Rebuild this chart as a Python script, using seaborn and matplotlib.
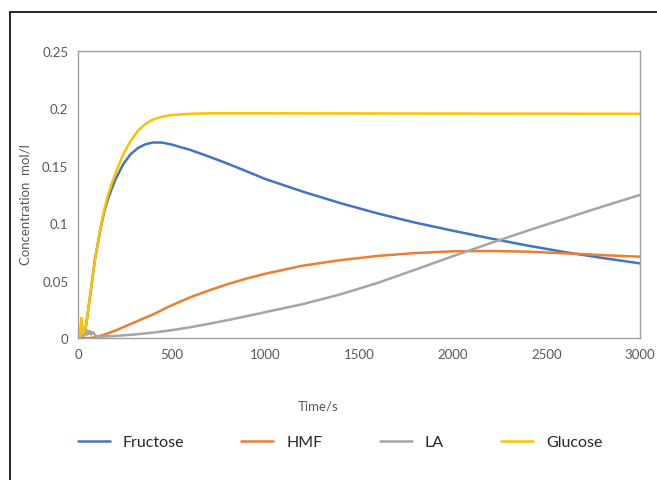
import matplotlib
matplotlib.use("Agg")
import matplotlib.pyplot as plt
import matplotlib.ticker as mticker
from matplotlib.lines import Line2D
import seaborn as sns
import pandas as pd

# data (time in s, concentration in mol/l)
fructose_t = [0, 15, 30, 40, 50, 60, 70, 80, 90, 100, 120, 140, 160, 180, 200, 240, 280, 320, 360,
              400, 450, 500, 600, 700, 800, 900, 1000, 1200, 1400, 1600, 1800, 2000, 2200, 2400,
              2600, 2800, 3000]
fructose = [0, 0.001, 0.004, 0.008, 0.019, 0.031, 0.043, 0.056, 0.068, 0.077, 0.095, 0.110, 0.121,
            0.130, 0.138, 0.151, 0.160, 0.1655, 0.1688, 0.1703, 0.1702, 0.1685, 0.1638, 0.158,
            0.1518, 0.1452, 0.1385, 0.1275, 0.1175, 0.1085, 0.1005, 0.0935, 0.0868, 0.0805,
            0.0748, 0.0697, 0.065]

hmf_t = [0, 60, 80, 100, 150, 200, 300, 400, 500, 600, 700, 800, 900, 1000, 1200, 1400, 1600,
         1800, 2000, 2200, 2400, 2600, 2800, 3000]
hmf = [0, 0, 0.0003, 0.001, 0.0035, 0.0065, 0.0135, 0.0205, 0.0285, 0.0355, 0.0415, 0.047, 0.0518,
       0.056, 0.063, 0.0678, 0.0715, 0.074, 0.0755, 0.0758, 0.0752, 0.0738, 0.0722, 0.0708]

la_t = [0, 20, 25, 30, 35, 40, 45, 50, 55, 60, 65, 70, 80, 90, 100, 200, 300, 400, 500, 600, 700,
        800, 900, 1000, 1200, 1400, 1600, 1800, 2000, 2200, 2400, 2600, 2800, 3000]
la = [0, 0.001, 0.005, 0.002, 0.006, 0.003, 0.007, 0.003, 0.006, 0.004, 0.006, 0.003, 0.005,
      0.003, 0.001, 0.0018, 0.003, 0.0047, 0.0068, 0.0094, 0.0124, 0.0156, 0.019, 0.0225, 0.0295,
      0.038, 0.048, 0.0595, 0.0712, 0.0825, 0.0935, 0.104, 0.1145, 0.1246]

glucose_t = [0, 10, 18, 22, 26, 30, 40, 50, 60, 70, 80, 90, 100, 120, 140, 160, 180, 200, 240, 280,
             320, 360, 400, 450, 500, 600, 700, 1000, 1500, 2000, 2500, 3000]
glucose = [0, 0.002, 0.0175, 0.012, 0.004, 0.005, 0.008, 0.019, 0.031, 0.043, 0.056, 0.068, 0.077,
           0.096, 0.112, 0.1245, 0.1345, 0.1435, 0.1595, 0.1715, 0.1805, 0.1865, 0.1903, 0.1928,
           0.1942, 0.1953, 0.1957, 0.1957, 0.1956, 0.1955, 0.1954, 0.1953]

series = ["Fructose", "HMF", "LA", "Glucose"]
colors = ["#4472C4", "#ED7D31", "#A5A5A5", "#FFC000"]
x_ticks = [0, 500, 1000, 1500, 2000, 2500, 3000]
y_ticks = [0, 0.05, 0.1, 0.15, 0.2, 0.25]

frames = []
for name, t, c in [("Fructose", fructose_t, fructose), ("HMF", hmf_t, hmf),
                   ("LA", la_t, la), ("Glucose", glucose_t, glucose)]:
    frames.append(pd.DataFrame({"time": t, "conc": c, "species": name}))
df = pd.concat(frames, ignore_index=True)

sns.set_style("white")
plt.rcParams["font.family"] = ["Lato", "DejaVu Sans"]

W, H = 657, 481
fig = plt.figure(figsize=(W / 100, H / 100), dpi=100)
ax = fig.add_axes([78 / W, 1 - 339 / H, (640 - 78) / W, (339 - 52) / H])

sns.lineplot(data=df, x="time", y="conc", hue="species", hue_order=series,
             palette=dict(zip(series, colors)), estimator=None, sort=False,
             linewidth=1.8, ax=ax)

ax.set_xlim(0, 3000)
ax.set_ylim(0, 0.25)
ax.set_xticks(x_ticks)
ax.set_yticks(y_ticks)
ax.yaxis.set_major_formatter(mticker.FuncFormatter(lambda v, p: "%g" % v))
ax.tick_params(direction="in", length=4, width=0.8, color="#A0A0A0",
               labelcolor="#595959", labelsize=9.5, pad=7)
for s in ax.spines.values():
    s.set_color("#A0A0A0")
    s.set_linewidth(1.0)
ax.set_xlabel("")
ax.set_ylabel("")

fig.text(318 / W, 1 - 407 / H, "Time/s", ha="center", va="center", color="#595959", fontsize=9.5)
fig.text(26 / W, 1 - 205 / H, "Concentration  mol/l", ha="center", va="center",
         rotation=90, color="#595959", fontsize=9.5)

handles, labels = ax.get_legend_handles_labels()
ax.legend(handles, labels, loc="center", bbox_to_anchor=(340 / W, 1 - 443 / H),
          bbox_transform=fig.transFigure, ncol=4, frameon=False, fontsize=11.5,
          handlelength=2.0, handletextpad=0.8, columnspacing=3.6,
          labelcolor="#262626")

# black frame around the chart (left and top edges visible)
fig.add_artist(Line2D([10 / W, 10 / W], [0, 1 - 13 / H], transform=fig.transFigure,
                      color="black", linewidth=1.2))
fig.add_artist(Line2D([10 / W, 1], [1 - 13 / H, 1 - 13 / H], transform=fig.transFigure,
                      color="black", linewidth=1.2))

fig.savefig("out.png", dpi=100)
